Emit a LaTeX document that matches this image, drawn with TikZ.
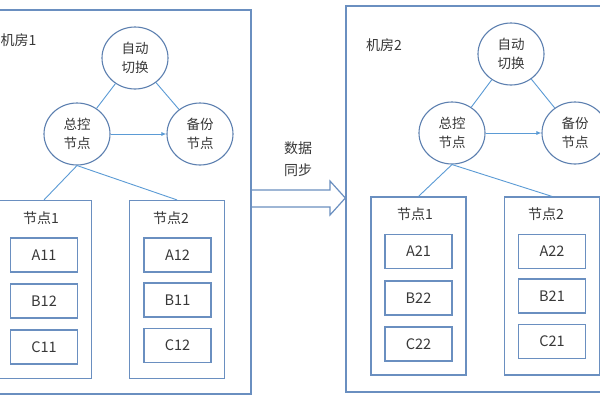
\documentclass[tikz,border=0pt]{standalone}
\usepackage{fontspec}
\newfontfamily\cjk{Noto Sans CJK SC}
\usetikzlibrary{shapes.geometric,arrows.meta}
\definecolor{boxc}{HTML}{6A8FC0}
\definecolor{circc}{HTML}{5D80B0}
\definecolor{linec}{HTML}{5B9BD5}
\definecolor{txtc}{HTML}{383838}
\tikzset{
  roombox/.style={draw=boxc, line width=1.3pt, rectangle, inner sep=0pt},
  nodebox/.style={draw=boxc, line width=1.2pt, rectangle, inner sep=0pt, minimum width=95pt, minimum height=178pt},
  itembox/.style={draw=boxc, line width=1.2pt, rectangle, inner sep=0pt, minimum width=67pt, minimum height=34pt, text=txtc, font=\cjk\fontsize{14.5}{18}\selectfont},
  role/.style={draw=circc, line width=1.1pt, ellipse, inner sep=0pt, minimum width=66pt, minimum height=62pt, align=center, text=txtc, font=\cjk\fontsize{13.5}{18.5}\selectfont},
  lbl/.style={text=txtc, inner sep=0pt},
  conn/.style={draw=linec, line width=0.9pt},
}
\begin{document}
\begin{tikzpicture}[x=1pt, y=-1pt, font=\cjk\fontsize{14}{18}\selectfont]
\useasboundingbox[fill=white] (0,0) rectangle (600,400);
% room 1
\node[roombox, minimum width=265pt, minimum height=384pt] (room1) at (118.5,202) {};
\node[lbl, anchor=west] (room1lbl) at (0.5,40) {机房1};
\node[role] (auto1) at (135,58) {自动\\切换};
\node[role] (main1) at (77,134) {总控\\节点};
\node[role] (back1) at (200,134) {备份\\节点};
\draw[conn] (auto1) -- (main1);
\draw[conn] (auto1) -- (back1);
\draw[conn, -{Latex[length=5pt,width=4pt]}] (main1) -- (back1);
\node[nodebox] (n11) at (44,289.5) {};
\node[nodebox] (n12) at (177,289.5) {};
\node[lbl] (n11lbl) at (41,218) {节点1};
\node[lbl] (n12lbl) at (171,218) {节点2};
\draw[conn] (main1.south) -- (n11.north);
\draw[conn] (main1.south) -- (n12.north);
\node[itembox] (a11) at (44,255) {A11};
\node[itembox] (b12) at (44,301) {B12};
\node[itembox] (c11) at (44,347) {C11};
\node[itembox] (a12) at (177.5,255) {A12};
\node[itembox] (b11) at (177.5,300) {B11};
\node[itembox] (c12) at (177.5,345.5) {C12};
% room 2
\node[roombox, minimum width=264pt, minimum height=386pt] (room2) at (478,199) {};
\node[lbl, anchor=west] (room2lbl) at (366,45) {机房2};
\node[role] (auto2) at (511,54) {自动\\切换};
\node[role] (main2) at (452,133) {总控\\节点};
\node[role] (back2) at (575,133) {备份\\节点};
\draw[conn] (auto2) -- (main2);
\draw[conn] (auto2) -- (back2);
\draw[conn, -{Latex[length=5pt,width=4pt]}] (main2) -- (back2);
\node[nodebox] (n21) at (418.5,286) {};
\node[nodebox] (n22) at (552,286) {};
\node[lbl] (n21lbl) at (415,214) {节点1};
\node[lbl] (n22lbl) at (546,214) {节点2};
\draw[conn] (main2.south) -- (n21.north);
\draw[conn] (main2.south) -- (n22.north);
\node[itembox] (a21) at (418.5,251.5) {A21};
\node[itembox] (b22) at (418.5,298) {B22};
\node[itembox] (c22) at (418.5,344) {C22};
\node[itembox] (a22) at (552,251.5) {A22};
\node[itembox] (b21) at (552,296) {B21};
\node[itembox] (c21) at (552,341.5) {C21};
% data sync arrow
\draw[draw=boxc, line width=1.2pt, line join=miter]
  (room1.east |- 0,190) -- (330,190) -- (330,181) -- (room2.west |- 0,198) -- (330,215) -- (330,207) -- (room1.east |- 0,207);
\node[lbl, align=center, font=\cjk\fontsize{14}{22}\selectfont] (synclbl) at (298,159) {数据\\同步};
\end{tikzpicture}
\end{document}
